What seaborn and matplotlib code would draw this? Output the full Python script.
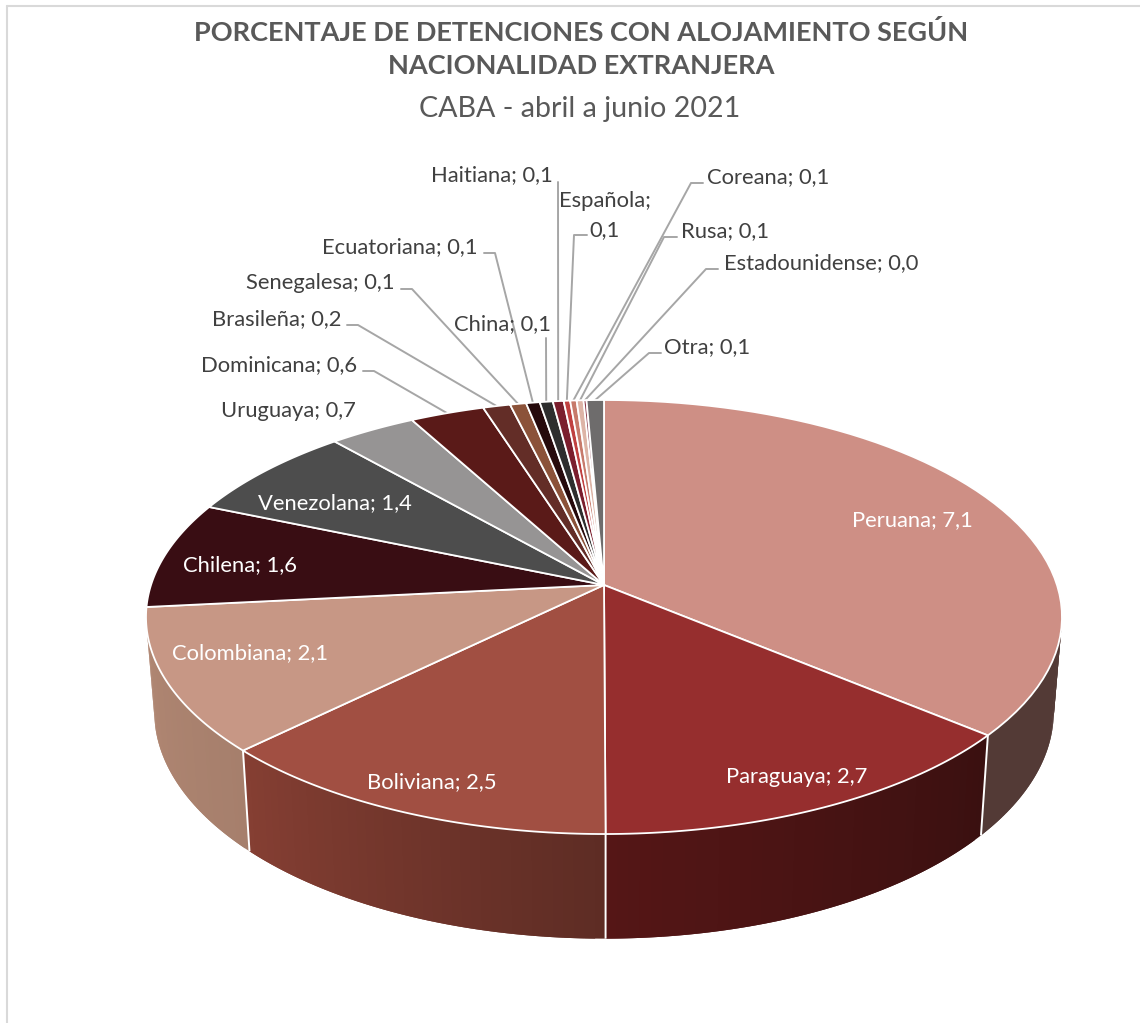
import numpy as np
import pandas as pd
import seaborn as sns
import matplotlib.pyplot as plt
from matplotlib.colors import to_rgb

nacionalidades = ['Peruana', 'Paraguaya', 'Boliviana', 'Colombiana', 'Chilena', 'Venezolana',
                  'Uruguaya', 'Dominicana', 'Brasileña', 'Senegalesa', 'Ecuatoriana', 'China',
                  'Haitiana', 'Española', 'Coreana', 'Rusa', 'Estadounidense', 'Otra']
porcentajes = [7.148, 2.748, 2.52, 2.12, 1.58, 1.42, 0.7, 0.6, 0.22, 0.13, 0.11, 0.105,
               0.087, 0.052, 0.052, 0.055, 0.024, 0.14]
colores = ['#CE8F85', '#962E2E', '#A14F42', '#C79785', '#390D13', '#4D4D4D',
           '#969494', '#5A1A18', '#632D27', '#8B5239', '#260A0C', '#2E2E2E',
           '#7B1E2D', '#C04040', '#C77A6B', '#DDB4A6', '#8B3A4A', '#6E6C6C']
# wall colours, start / end of each visible slice (clockwise)
pared = {'Peruana': ('#533A36', '#533A36'), 'Paraguaya': ('#3A1010', '#551616'),
         'Boliviana': ('#5E2C24', '#853F33'), 'Colombiana': ('#A67F6C', '#B08672')}

titulo = 'PORCENTAJE DE DETENCIONES CON ALOJAMIENTO SEGÚN\nNACIONALIDAD EXTRANJERA'
subtitulo = 'CABA - abril a junio 2021'

df = pd.DataFrame({'nac': nacionalidades, 'pct': porcentajes, 'color': colores})
df['fin'] = df['pct'].cumsum() / df['pct'].sum() * 360
df['ini'] = df['fin'].shift(fill_value=0)
df['etiqueta'] = df['nac'] + '; ' + df['pct'].map(lambda v: f'{v + 1e-9:.1f}'.replace('.', ','))

sns.set_theme(style='white')
plt.rcParams['font.family'] = ['Lato', 'DejaVu Sans']

fig = plt.figure(figsize=(11.4, 10.23), dpi=100)
ax = fig.add_axes([0, 0, 1, 1])
ax.set_xlim(0, 1140)
ax.set_ylim(1023, 0)
ax.axis('off')

# perspective of the 3D pie
cx, cy = 604, 585
a, b, k = 453, 212.3, 0.1475
s, d0 = 0.982, 93


def proyectar(theta, abajo=False):
    t = np.radians(theta)
    y = -np.cos(t)
    den = 1 - k * y
    px, py = a * np.sin(t) / den, b * y / den
    if abajo:
        return cx + s * px, cy + s * py + d0 / den
    return cx + px, cy + py


def arco(t0, t1, n=60, abajo=False):
    return proyectar(np.linspace(t0, t1, n), abajo)


# side walls, overlapping strips to get the gradient without seams
vis_ini, vis_fin = 97, 258
for _, f in df.iterrows():
    if f['nac'] not in pared:
        continue
    t0, t1 = max(f['ini'], vis_ini), min(f['fin'], vis_fin)
    c0, c1 = np.array(to_rgb(pared[f['nac']][0])), np.array(to_rgb(pared[f['nac']][1]))
    bordes = np.linspace(t0, t1, 41)
    for i in range(40):
        fin_tira = bordes[min(i + 2, 40)]
        xt, yt = arco(bordes[i], fin_tira, 5)
        xb, yb = arco(bordes[i], fin_tira, 5, abajo=True)
        col = c0 + (c1 - c0) * (i + 0.5) / 40
        ax.fill(np.r_[xt, xb[::-1]], np.r_[yt, yb[::-1]], color=col, lw=0, zorder=1)

# white separators on the wall
for t in df['fin'].iloc[:3]:
    x0, y0 = proyectar(t)
    x1, y1 = proyectar(t, abajo=True)
    ax.plot([x0, x1], [y0, y1], color='white', lw=1.4, zorder=2, solid_capstyle='butt')

# top face
for _, f in df.iterrows():
    xa, ya = arco(f['ini'], f['fin'])
    ax.fill(np.r_[cx, xa], np.r_[cy, ya], facecolor=f['color'], edgecolor='white',
            lw=1.3, joinstyle='round', zorder=3)

tam = 15.8

# labels inside the slices
dentro = {'Peruana': (912, 520), 'Paraguaya': (797, 777), 'Boliviana': (432, 782),
          'Colombiana': (250, 653), 'Chilena': (240, 565), 'Venezolana': (335, 503)}
for nac, (x, y) in dentro.items():
    ax.text(x, y, df.loc[df['nac'] == nac, 'etiqueta'].iloc[0], color='white', fontsize=tam,
            ha='center', va='center', zorder=5)

# labels outside: text position, then the elbow of the leader line
fuera = {
    'Uruguaya': (288, 411, None),
    'Dominicana': (279, 365, [(363, 371), (374, 371)]),
    'Brasileña': (277, 319, [(347, 325), (358, 325)]),
    'Senegalesa': (320, 283, [(401, 289), (412, 289)]),
    'Ecuatoriana': (400, 247, [(484, 253), (495, 253)]),
    'China': (503, 324, [(546, 338)]),
    'Haitiana': (492, 175, [(558, 182)]),
    'Coreana': (768, 177, [(703, 183), (691, 183)]),
    'Rusa': (725, 231, [(677, 237), (664, 237)]),
    'Estadounidense': (821, 263, [(718, 269), (706, 269)]),
    'Otra': (707, 347, [(661, 353), (649, 353)]),
}
gris = '#404040'
for nac, (x, y, codo) in fuera.items():
    f = df[df['nac'] == nac].iloc[0]
    ax.text(x, y, f['etiqueta'], color=gris, fontsize=tam, ha='center', va='center', zorder=5)
    if codo:
        xm, ym = proyectar((f['ini'] + f['fin']) / 2)
        ax.plot([p[0] for p in codo] + [xm], [p[1] for p in codo] + [ym],
                color='#A6A6A6', lw=1.4, zorder=2.5)

# Española wraps on two lines in the original
f = df[df['nac'] == 'Española'].iloc[0]
ax.text(605, 201, 'Española;', color=gris, fontsize=tam, ha='center', va='center', zorder=5)
ax.text(605, 230, f['etiqueta'].split('; ')[1], color=gris, fontsize=tam, ha='center', va='center', zorder=5)
xm, ym = proyectar((f['ini'] + f['fin']) / 2)
ax.plot([587, 574, xm], [235, 235, ym], color='#A6A6A6', lw=1.4, zorder=2.5)

# titles
ax.text(581, 49, titulo, color='#595959', fontsize=19.5, fontweight='bold', ha='center', va='center',
        linespacing=1.47)
ax.text(580, 109, subtitulo, color='#595959', fontsize=20.6, ha='center', va='center')

# chart frame, only top and left show up
ax.plot([6.5, 1140], [5.5, 5.5], color='#D9D9D9', lw=1.5)
ax.plot([6.5, 6.5], [5.5, 1023], color='#D9D9D9', lw=1.5)

fig.savefig('out.png', dpi=100)
